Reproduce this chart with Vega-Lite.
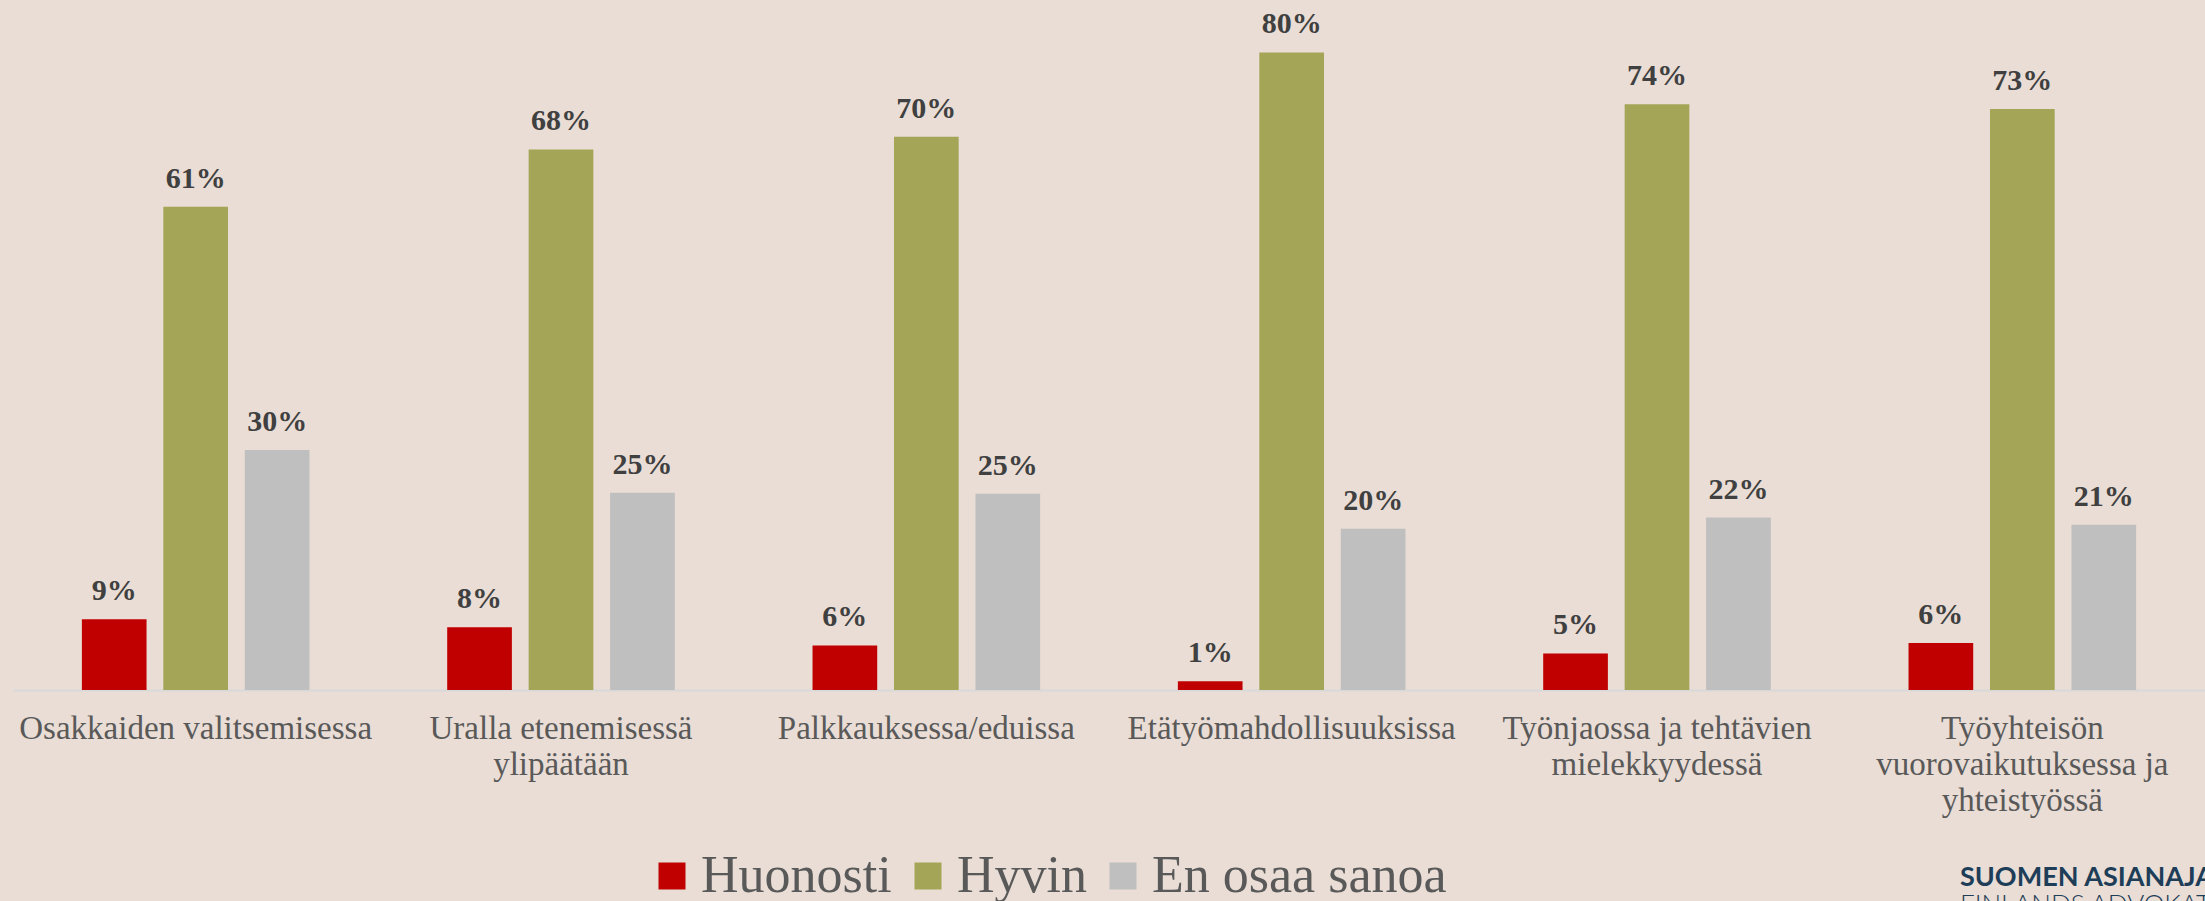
{
  "$schema": "https://vega.github.io/schema/vega-lite/v6.json",
  "width": 2192,
  "height": 690,
  "autosize": {"type": "none"},
  "padding": {"left": 13, "top": 0, "right": 0, "bottom": 211},
  "background": "#e9ddd5",
  "config": {"view": {"stroke": null}},
  "title": {
    "text": "SUOMEN ASIANAJAJALIITTO",
    "subtitle": "FINLANDS ADVOKATFÖRBUND",
    "orient": "bottom",
    "anchor": "end",
    "frame": "group",
    "align": "left",
    "baseline": "top",
    "dx": -245,
    "dy": -37,
    "offset": 0,
    "font": "Lato",
    "fontSize": 27,
    "fontWeight": "bold",
    "color": "#1d3d58",
    "subtitleFont": "Lato",
    "subtitleFontSize": 26,
    "subtitleFontWeight": 300,
    "subtitleColor": "#1d3d58",
    "subtitlePadding": 0
  },
  "data": {
    "values": [
      {"kohde": "Osakkaiden valitsemisessa", "vastaus": "Huonosti", "osuus": 0.089},
      {"kohde": "Osakkaiden valitsemisessa", "vastaus": "Hyvin", "osuus": 0.608},
      {"kohde": "Osakkaiden valitsemisessa", "vastaus": "En osaa sanoa", "osuus": 0.302},
      {"kohde": "Uralla etenemisessä ylipäätään", "vastaus": "Huonosti", "osuus": 0.079},
      {"kohde": "Uralla etenemisessä ylipäätään", "vastaus": "Hyvin", "osuus": 0.680},
      {"kohde": "Uralla etenemisessä ylipäätään", "vastaus": "En osaa sanoa", "osuus": 0.248},
      {"kohde": "Palkkauksessa/eduissa", "vastaus": "Huonosti", "osuus": 0.056},
      {"kohde": "Palkkauksessa/eduissa", "vastaus": "Hyvin", "osuus": 0.696},
      {"kohde": "Palkkauksessa/eduissa", "vastaus": "En osaa sanoa", "osuus": 0.247},
      {"kohde": "Etätyömahdollisuuksissa", "vastaus": "Huonosti", "osuus": 0.011},
      {"kohde": "Etätyömahdollisuuksissa", "vastaus": "Hyvin", "osuus": 0.802},
      {"kohde": "Etätyömahdollisuuksissa", "vastaus": "En osaa sanoa", "osuus": 0.203},
      {"kohde": "Työnjaossa ja tehtävien mielekkyydessä", "vastaus": "Huonosti", "osuus": 0.046},
      {"kohde": "Työnjaossa ja tehtävien mielekkyydessä", "vastaus": "Hyvin", "osuus": 0.737},
      {"kohde": "Työnjaossa ja tehtävien mielekkyydessä", "vastaus": "En osaa sanoa", "osuus": 0.217},
      {"kohde": "Työyhteisön vuorovaikutuksessa ja yhteistyössä", "vastaus": "Huonosti", "osuus": 0.059},
      {"kohde": "Työyhteisön vuorovaikutuksessa ja yhteistyössä", "vastaus": "Hyvin", "osuus": 0.731},
      {"kohde": "Työyhteisön vuorovaikutuksessa ja yhteistyössä", "vastaus": "En osaa sanoa", "osuus": 0.208}
    ]
  },
  "encoding": {
    "x": {
      "field": "kohde",
      "type": "nominal",
      "sort": null,
      "scale": {"paddingInner": 0.377, "paddingOuter": 0.1885},
      "axis": {
        "title": null,
        "labelAngle": 0,
        "ticks": false,
        "domainColor": "#d9d9d9",
        "domainWidth": 2,
        "labelFont": "Liberation Serif",
        "labelFontSize": 33,
        "labelColor": "#595959",
        "labelPadding": 22,
        "labelBaseline": "top",
        "labelLineHeight": 36,
        "labelLimit": 500,
        "labelOverlap": false,
        "labelExpr": "datum.value == 'Uralla etenemisessä ylipäätään' ? ['Uralla etenemisessä', 'ylipäätään'] : datum.value == 'Työnjaossa ja tehtävien mielekkyydessä' ? ['Työnjaossa ja tehtävien', 'mielekkyydessä'] : datum.value == 'Työyhteisön vuorovaikutuksessa ja yhteistyössä' ? ['Työyhteisön', 'vuorovaikutuksessa ja', 'yhteistyössä'] : datum.label"
      }
    },
    "xOffset": {
      "field": "vastaus",
      "type": "nominal",
      "sort": ["Huonosti", "Hyvin", "En osaa sanoa"],
      "scale": {"paddingInner": 0.206, "paddingOuter": 0}
    },
    "y": {
      "field": "osuus",
      "type": "quantitative",
      "scale": {"domain": [0, 0.868], "nice": false},
      "axis": null
    }
  },
  "layer": [
    {
      "mark": {"type": "bar"},
      "encoding": {
        "color": {
          "field": "vastaus",
          "type": "nominal",
          "scale": {"domain": ["Huonosti", "Hyvin", "En osaa sanoa"], "range": ["#c00000", "#a5a557", "#bfbfbf"]},
          "legend": {
            "title": null,
            "orient": "none",
            "legendX": 633,
            "legendY": 850,
            "direction": "horizontal",
            "symbolType": "square",
            "symbolSize": 729,
            "symbolStrokeWidth": 0,
            "symbolOpacity": 1,
            "labelFont": "Liberation Serif",
            "labelFontSize": 52,
            "labelColor": "#595959",
            "labelOffset": 3,
            "columnPadding": 10,
            "labelLimit": 600,
            "padding": 0
          }
        }
      }
    },
    {
      "mark": {"type": "text", "font": "Liberation Serif", "fontWeight": "bold", "fontSize": 30, "color": "#404040", "baseline": "alphabetic", "dy": -19},
      "encoding": {
        "text": {"field": "osuus", "type": "quantitative", "format": ".0%"}
      }
    }
  ]
}
